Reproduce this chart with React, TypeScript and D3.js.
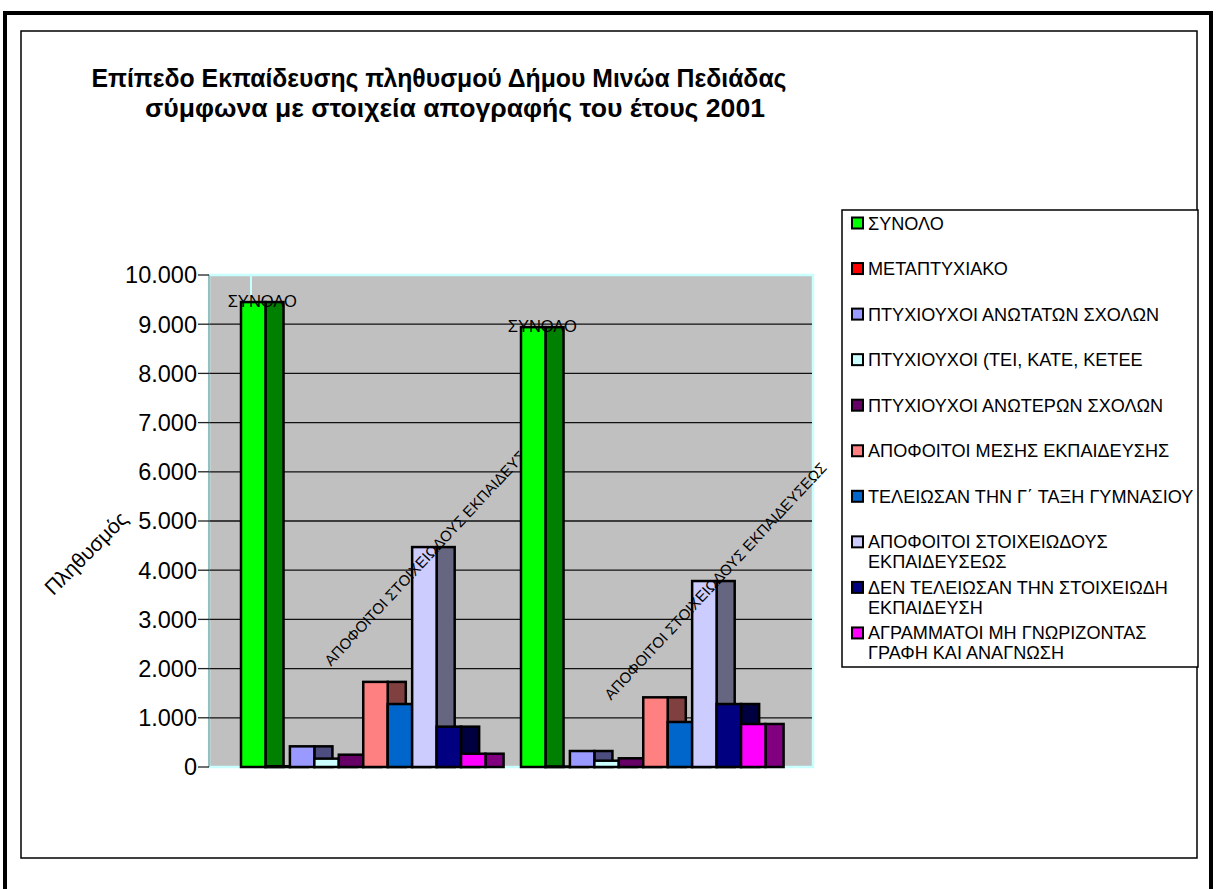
import React from "react";
import * as d3 from "d3";

const categories = ["Ομάδα Α", "Ομάδα Β"];
const seriesNames = [
  "ΣΥΝΟΛΟ",
  "ΜΕΤΑΠΤΥΧΙΑΚΟ",
  "ΠΤΥΧΙΟΥΧΟΙ ΑΝΩΤΑΤΩΝ ΣΧΟΛΩΝ",
  "ΠΤΥΧΙΟΥΧΟΙ (ΤΕΙ, ΚΑΤΕ, ΚΕΤΕΕ",
  "ΠΤΥΧΙΟΥΧΟΙ ΑΝΩΤΕΡΩΝ ΣΧΟΛΩΝ",
  "ΑΠΟΦΟΙΤΟΙ ΜΕΣΗΣ ΕΚΠΑΙΔΕΥΣΗΣ",
  "ΤΕΛΕΙΩΣΑΝ ΤΗΝ Γ΄ ΤΑΞΗ ΓΥΜΝΑΣΙΟΥ",
  "ΑΠΟΦΟΙΤΟΙ ΣΤΟΙΧΕΙΩΔΟΥΣ\nΕΚΠΑΙΔΕΥΣΕΩΣ",
  "ΔΕΝ ΤΕΛΕΙΩΣΑΝ ΤΗΝ ΣΤΟΙΧΕΙΩΔΗ\nΕΚΠΑΙΔΕΥΣΗ",
  "ΑΓΡΑΜΜΑΤΟΙ ΜΗ ΓΝΩΡΙΖΟΝΤΑΣ\nΓΡΑΦΗ ΚΑΙ ΑΝΑΓΝΩΣΗ",
];
const frontColors = ["#00FF00", "#FF0000", "#9999FF", "#CCFFFF", "#660066", "#FF8080", "#0066CC", "#CCCCFF", "#000080", "#FF00FF"];
const sideColors = ["#008000", "#800000", "#4D4D80", "#668080", "#330033", "#804040", "#003366", "#666680", "#000040", "#800080"];
const valuesA = [9450, 15, 420, 170, 250, 1730, 1280, 4470, 820, 270];
const valuesB = [8940, 10, 325, 128, 177, 1416, 915, 3780, 1280, 874];
const values = [valuesA, valuesB];
const yTicks = [0, 1000, 2000, 3000, 4000, 5000, 6000, 7000, 8000, 9000, 10000];
const labelledSeries = [0, 7];
const dataLabels = ["ΣΥΝΟΛΟ", "ΑΠΟΦΟΙΤΟΙ ΣΤΟΙΧΕΙΩΔΟΥΣ ΕΚΠΑΙΔΕΥΣΕΩΣ"];
const titleLines = ["Επίπεδο Εκπαίδευσης πληθυσμού Δήμου Μινώα Πεδιάδας", "σύμφωνα με στοιχεία απογραφής  του έτους 2001"];
const yTitle = "Πληθυσμός";

const FONT = "'Liberation Sans', Arial, sans-serif";

export default function App() {
  const W = 1216, H = 889;
  const plot = { x0: 209, x1: 813, y0: 275, y1: 767 };
  const y = d3.scaleLinear().domain([0, 10000]).range([plot.y1, plot.y0]);
  const xGroup = d3.scaleBand<string>().domain(categories).range([241, 765.5]).paddingInner(0.1268).paddingOuter(0);
  const xSeries = d3.scaleBand<string>().domain(seriesNames).range([0, xGroup.bandwidth()]).padding(0);
  const bw = xSeries.bandwidth();
  const depth = bw * 0.74;
  const fmt = (v: number) => d3.format(",")(v).replace(/,/g, ".");

  return (
    <svg width={W} height={H} viewBox={`0 0 ${W} ${H}`} style={{ position: "absolute", left: 0, top: 0, background: "#fff" }} fontFamily={FONT}>
      <rect x={0} y={0} width={W} height={H} fill="#fff" />
      {/* outer frame */}
      <line x1={3} x2={1213} y1={13} y2={13} stroke="#000" strokeWidth={4} />
      <line x1={5} x2={5} y1={11} y2={H} stroke="#000" strokeWidth={4} />
      <line x1={1211} x2={1211} y1={11} y2={H} stroke="#000" strokeWidth={4} />
      <rect x={21} y={31} width={1176} height={827} fill="none" stroke="#000" strokeWidth={1.5} />

      {/* title */}
      <text x={439} y={87} textAnchor="middle" fontWeight="bold" fontSize={25} textLength={695} lengthAdjust="spacingAndGlyphs">{titleLines[0]}</text>
      <text x={455} y={117} textAnchor="middle" fontWeight="bold" fontSize={25} textLength={620} lengthAdjust="spacingAndGlyphs">{titleLines[1]}</text>

      {/* plot area */}
      <rect x={plot.x0} y={plot.y0} width={plot.x1 - plot.x0} height={plot.y1 - plot.y0} fill="#C0C0C0" stroke="#C8FFFF" strokeWidth={2.5} />
      {yTicks.filter(t => t > 0 && t < 10000).map(t => (
        <line key={"g" + t} x1={plot.x0} x2={plot.x1 - 1} y1={y(t)} y2={y(t)} stroke="#111" strokeWidth={1.3} />
      ))}
      <line x1={251} x2={251} y1={plot.y0} y2={plot.y1} stroke="#C8FFFF" strokeWidth={2} />
      <line x1={plot.x0} x2={plot.x0} y1={plot.y0} y2={plot.y1} stroke="#5f8080" strokeWidth={1} />
      {yTicks.map(t => (
        <g key={"t" + t}>
          <line x1={198} x2={plot.x0} y1={y(t)} y2={y(t)} stroke="#222" strokeWidth={1.3} />
          <text x={197} y={y(t)} dy="0.36em" textAnchor="end" fontSize={23.5}>{fmt(t)}</text>
        </g>
      ))}
      <text transform={`translate(86,553) rotate(-45)`} textAnchor="middle" dy="0.35em" fontSize={21}>{yTitle}</text>

      {/* bars */}
      {categories.map((c, gi) => {
        const gx = xGroup(c)!;
        return (
          <g key={c}>
            {seriesNames.map((s, si) => {
              const v = values[gi][si];
              const x = gx + xSeries(s)!;
              const top = y(v);
              const h = plot.y1 - top;
              return (
                <g key={s}>
                  <rect x={x + bw} y={top} width={depth} height={h} fill={sideColors[si]} stroke="#000" strokeWidth={2.5} />
                  <rect x={x} y={top} width={bw} height={h} fill={frontColors[si]} stroke="#000" strokeWidth={2.5} />
                </g>
              );
            })}
            {labelledSeries.map((si, li) => {
              const s = seriesNames[si];
              const cx = gx + xSeries(s)! + (bw + depth) / 2;
              const top = y(values[gi][si]);
              if (li === 0) {
                return <text key={"l" + si} x={cx} y={top} dy="0.28em" textAnchor="middle" fontSize={16.5}>{dataLabels[li]}</text>;
              }
              return (
                <text key={"l" + si} transform={`translate(${cx + 2},${top}) rotate(-47)`} textAnchor="middle" dy="0.35em" fontSize={15}>{dataLabels[li]}</text>
              );
            })}
          </g>
        );
      })}

      {/* legend */}
      <rect x={842} y={210} width={356} height={457} fill="#fff" stroke="#000" strokeWidth={1.5} />
      {seriesNames.map((s, i) => {
        const cy = 223 + i * 45.55;
        const lines = s.split("\n");
        return (
          <g key={"lg" + s}>
            <rect x={852} y={cy - 5.5} width={11} height={11} fill={frontColors[i]} stroke="#000" strokeWidth={2} />
            {lines.map((ln, k) => (
              <text key={k} x={868} y={cy + k * 20} dy="0.36em" fontSize={18.1}>{ln}</text>
            ))}
          </g>
        );
      })}
    </svg>
  );
}
